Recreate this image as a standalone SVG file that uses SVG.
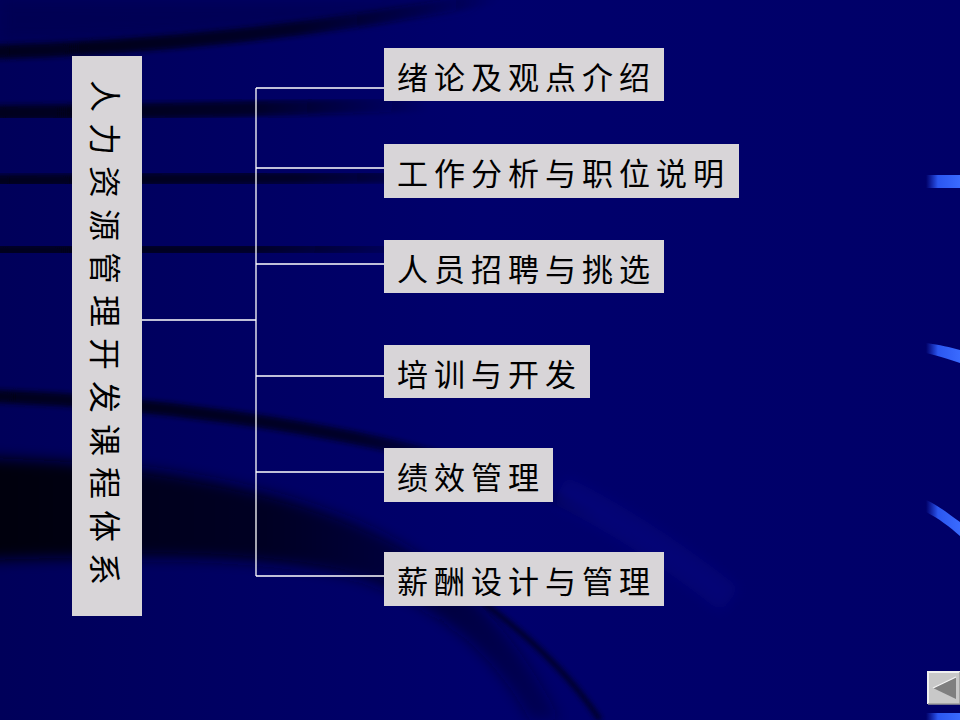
<svg xmlns="http://www.w3.org/2000/svg" width="960" height="720" viewBox="0 0 960 720">
  <defs>
    <linearGradient id="bg" x1="0" y1="0" x2="1" y2="0">
      <stop offset="0" stop-color="#00005a"/>
      <stop offset="0.5" stop-color="#00006c"/>
      <stop offset="1" stop-color="#000068"/>
    </linearGradient>
    <linearGradient id="fadeR" x1="0" y1="0" x2="1" y2="0">
      <stop offset="0" stop-color="#00001a" stop-opacity="1"/>
      <stop offset="0.6" stop-color="#00001a" stop-opacity="0.8"/>
      <stop offset="1" stop-color="#00001a" stop-opacity="0"/>
    </linearGradient>
    <linearGradient id="streak" x1="0" y1="0" x2="1" y2="0">
      <stop offset="0" stop-color="#2a55ff" stop-opacity="0"/>
      <stop offset="0.35" stop-color="#3060ff" stop-opacity="0.9"/>
      <stop offset="1" stop-color="#3a6bff"/>
    </linearGradient>
    <linearGradient id="crescent" gradientUnits="userSpaceOnUse" x1="0" y1="0" x2="600" y2="0">
      <stop offset="0" stop-color="#000010" stop-opacity="1"/>
      <stop offset="0.45" stop-color="#000018" stop-opacity="0.85"/>
      <stop offset="1" stop-color="#000020" stop-opacity="0.2"/>
    </linearGradient>
    <filter id="blur" x="-10%" y="-50%" width="120%" height="200%">
      <feGaussianBlur stdDeviation="2.5"/>
    </filter>
    <filter id="blur2" x="-20%" y="-30%" width="140%" height="160%">
      <feGaussianBlur stdDeviation="7"/>
    </filter>
    <style>
      .box { fill: #d8d5d8; }
      .lbl { font-family: "Noto Sans CJK SC", "Noto Sans CJK TC", sans-serif; font-size: 31px; letter-spacing: 6px; fill: #000; dominant-baseline: central; }
      .vlbl { font-family: "Noto Sans CJK SC", "Noto Sans CJK TC", sans-serif; font-size: 32px; letter-spacing: 11px; fill: #000; dominant-baseline: central; }
      .conn { stroke: #ffffff; stroke-width: 1.3; fill: none; }
      .band { fill: none; stroke: url(#fadeR); filter: url(#blur); }
    </style>
  </defs>

  <!-- background -->
  <rect x="0" y="0" width="960" height="720" fill="url(#bg)"/>
  <g id="background">
    <path d="M0 0 L480 0 C350 25 180 40 0 40 Z" fill="#000050" opacity="0.6" filter="url(#blur2)"/>
    <path class="band" d="M-10 52 C150 48 330 30 500 -4" stroke-width="14"/>
    <path class="band" d="M-10 113 C140 112 290 108 430 104" stroke-width="15"/>
    <path class="band" d="M-10 181 C160 180 330 178 500 176" stroke-width="13"/>
    <path class="band" d="M-10 251 C140 250 290 249 440 248" stroke-width="13"/>
    <path class="band" d="M-10 322 C100 322 180 322 260 322" stroke-width="10" opacity="0.6"/>
    <path class="band" d="M-10 396 C150 402 320 425 450 460 C520 480 560 500 600 520" stroke-width="13"/>
    <path d="M-20 458 C150 462 300 490 400 545 C470 585 520 640 560 720 L530 720 C495 655 440 605 360 578 C260 552 140 556 -20 560 Z" fill="url(#crescent)" filter="url(#blur2)"/>
    <path d="M420 560 C500 610 560 660 600 720" fill="none" stroke="#000028" stroke-width="5" filter="url(#blur)"/>
    <path d="M560 490 C620 520 680 560 730 600" fill="none" stroke="#10108a" stroke-width="30" opacity="0.35" filter="url(#blur2)"/>
    <!-- right blue streaks -->
    <path d="M926 175 L960 175 L960 188 L926 188 Z" fill="url(#streak)"/>
    <path d="M926 343 C940 345 950 347 960 350 L960 363 C950 360 940 356 926 353 Z" fill="url(#streak)"/>
    <path d="M926 500 C938 505 950 515 960 522 L960 536 C950 527 938 518 926 512 Z" fill="url(#streak)"/>
    <path d="M926 713 L960 713 L960 720 L926 720 Z" fill="url(#streak)"/>
  </g>

  <!-- connectors -->
  <g id="connectors">
    <path class="conn" d="M142 320 H256"/>
    <path class="conn" d="M256 88 V576"/>
    <path class="conn" d="M256 88 H384"/>
    <path class="conn" d="M256 168 H384"/>
    <path class="conn" d="M256 264 H384"/>
    <path class="conn" d="M256 376 H384"/>
    <path class="conn" d="M256 472 H384"/>
    <path class="conn" d="M256 576 H384"/>
  </g>

  <!-- root node -->
  <g id="root">
    <rect class="box" x="72" y="56" width="70" height="560"/>
    <text class="vlbl" transform="translate(107,80) rotate(90)" x="0" y="0">人力资源管理开发课程体系</text>
  </g>

  <g id="n1">
    <rect class="box" x="384" y="48" width="280" height="53"/>
    <text class="lbl" x="397" y="75">绪论及观点介绍</text>
  </g>
  <g id="n2">
    <rect class="box" x="384" y="144" width="355" height="54"/>
    <text class="lbl" x="397" y="171">工作分析与职位说明</text>
  </g>
  <g id="n3">
    <rect class="box" x="384" y="240" width="280" height="53"/>
    <text class="lbl" x="397" y="267">人员招聘与挑选</text>
  </g>
  <g id="n4">
    <rect class="box" x="384" y="345" width="206" height="53"/>
    <text class="lbl" x="397" y="372">培训与开发</text>
  </g>
  <g id="n5">
    <rect class="box" x="384" y="448" width="169" height="54"/>
    <text class="lbl" x="397" y="475">绩效管理</text>
  </g>
  <g id="n6">
    <rect class="box" x="384" y="552" width="280" height="54"/>
    <text class="lbl" x="397" y="579">薪酬设计与管理</text>
  </g>

  <!-- back button -->
  <g id="back-button">
    <rect x="928" y="672" width="32" height="32" fill="#c8c8c8"/>
    <path d="M928 704 V672 H960" fill="none" stroke="#f0f0f0" stroke-width="2"/>
    <path d="M960 672 V704 H928" fill="none" stroke="#9a9a9a" stroke-width="1.5"/>
    <polygon points="933,688 956,677 956,699" fill="#7f7f7f"/>
    <path d="M933 688 L956 677" stroke="#f4f4f4" stroke-width="1.2"/>
  </g>
</svg>
